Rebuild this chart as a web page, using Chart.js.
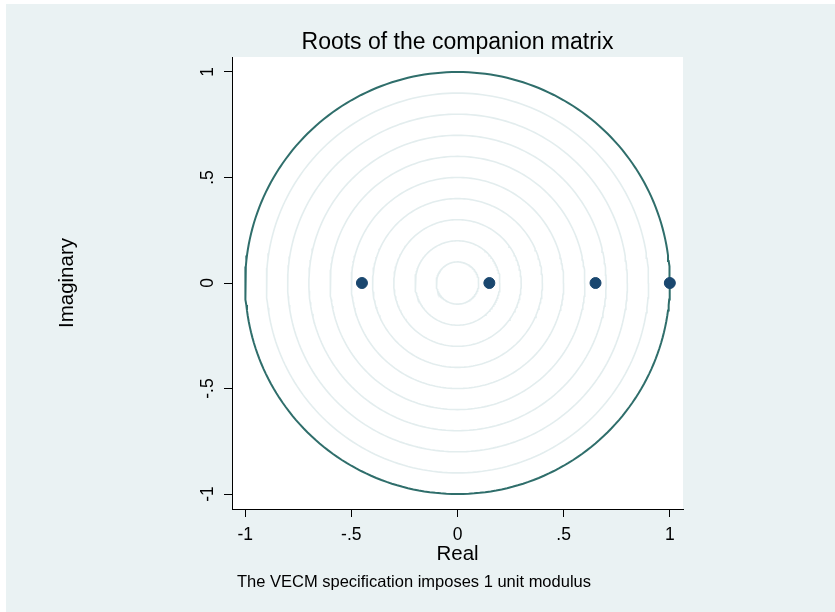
<!DOCTYPE html>
<html>
<head>
<meta charset="utf-8">
<script src="https://cdn.jsdelivr.net/npm/chart.js@4/dist/chart.umd.min.js"></script>
<style>
  html, body { margin: 0; padding: 0; background: #fff; }
  canvas { display: block; }
</style>
</head>
<body>
<canvas id="chart" width="835" height="612"></canvas>
<script>
// roots of the companion matrix (real, imaginary)
const rootsReal = [-0.45, 0.15, 0.65, 1.0];
const rootsImag = [0, 0, 0, 0];

// reference rings
const ringRadii = [0.1, 0.2, 0.3, 0.4, 0.5, 0.6, 0.7, 0.8, 0.9];
const unitRadius = 1;

// axis ticks
const xTicks = [-1, -0.5, 0, 0.5, 1];
const xTickLabels = ['-1', '-.5', '0', '.5', '1'];
const yTicks = [-1, -0.5, 0, 0.5, 1];
const yTickLabels = ['-1', '-.5', '0', '.5', '1'];

const titleText = 'Roots of the companion matrix';
const xTitle = 'Real';
const yTitle = 'Imaginary';
const noteText = 'The VECM specification imposes 1 unit modulus';

const FONT = "'Liberation Sans', Arial, sans-serif";

function circlePoints(r) {
    const pts = [];
    const steps = 240;
    for (let i = 0; i <= steps; i++) {
        const t = (i / steps) * Math.PI * 2;
        pts.push({ x: r * Math.cos(t), y: r * Math.sin(t) });
    }
    return pts;
}

const datasets = [];

// points on top
datasets.push({
    type: 'scatter',
    data: rootsReal.map((x, i) => ({ x: x, y: rootsImag[i] })),
    backgroundColor: '#1a476f',
    borderColor: '#1a476f',
    pointRadius: 5.5,
    pointHoverRadius: 5.5,
    order: 0
});

datasets.push({
    type: 'line',
    data: circlePoints(unitRadius),
    borderColor: '#2f6e6b',
    borderWidth: 2,
    pointRadius: 0,
    fill: false,
    tension: 0,
    order: 1
});

for (const r of ringRadii) {
    datasets.push({
        type: 'line',
        data: circlePoints(r),
        borderColor: '#e3edee',
        borderWidth: 1.6,
        pointRadius: 0,
        fill: false,
        tension: 0,
        order: 2
    });
}

const background = {
    id: 'background',
    beforeDraw(chart) {
        const ctx = chart.ctx;
        const a = chart.chartArea;
        ctx.save();
        ctx.fillStyle = '#ffffff';
        ctx.fillRect(0, 0, chart.width, chart.height);
        ctx.fillStyle = '#eaf2f3';
        ctx.fillRect(6, 4, chart.width - 6, chart.height - 4);
        ctx.fillStyle = '#ffffff';
        ctx.fillRect(a.left, a.top, a.right - a.left, a.bottom - a.top);
        ctx.restore();
    }
};

// note below the x axis title
const note = {
    id: 'note',
    afterDraw(chart) {
        const ctx = chart.ctx;
        ctx.save();
        ctx.font = '16.5px ' + FONT;
        ctx.fillStyle = '#000';
        ctx.textAlign = 'left';
        ctx.textBaseline = 'middle';
        ctx.fillText(noteText, chart.chartArea.left + 5, 582);
        ctx.restore();
    }
};

new Chart(document.getElementById('chart'), {
    type: 'scatter',
    data: { datasets: datasets },
    options: {
        responsive: false,
        animation: false,
        layout: { padding: { left: 40, right: 152, top: 0, bottom: 45 } },
        plugins: {
            legend: { display: false },
            tooltip: { enabled: false },
            title: {
                display: true,
                text: titleText,
                fullSize: false,
                color: '#000',
                font: { family: FONT, size: 23, weight: 'normal' },
                padding: { top: 29.2, bottom: 0.2 }
            }
        },
        scales: {
            x: {
                type: 'linear',
                min: -1.062,
                max: 1.062,
                afterBuildTicks: s => { s.ticks = xTicks.map(v => ({ value: v })); },
                afterFit: s => { s.height = 58; },
                ticks: {
                    color: '#000',
                    font: { family: FONT, size: 17.5 },
                    padding: 7.5,
                    maxRotation: 0,
                    callback: (v) => xTickLabels[xTicks.indexOf(v)]
                },
                grid: {
                    drawOnChartArea: false,
                    drawTicks: true,
                    tickLength: 8,
                    color: '#000',
                    lineWidth: 1
                },
                border: { display: true, color: '#000', width: 1 },
                title: {
                    display: true,
                    text: xTitle,
                    color: '#000',
                    font: { family: FONT, size: 20.5 },
                    padding: { top: 0, bottom: 0 }
                }
            },
            y: {
                type: 'linear',
                min: -1.071,
                max: 1.071,
                afterBuildTicks: s => { s.ticks = yTicks.map(v => ({ value: v })); },
                afterFit: s => { s.width = 192; },
                ticks: {
                    color: '#000',
                    font: { family: FONT, size: 17.5 },
                    padding: 5.8,
                    minRotation: 90,
                    maxRotation: 90,
                    crossAlign: 'center',
                    callback: (v) => yTickLabels[yTicks.indexOf(v)]
                },
                grid: {
                    drawOnChartArea: false,
                    drawTicks: true,
                    tickLength: 8,
                    color: '#000',
                    lineWidth: 1
                },
                border: { display: true, color: '#000', width: 1 },
                title: {
                    display: true,
                    text: yTitle,
                    color: '#000',
                    font: { family: FONT, size: 20.5 },
                    padding: { top: 14.7, bottom: 0 }
                }
            }
        }
    },
    plugins: [background, note]
});
</script>
</body>
</html>
